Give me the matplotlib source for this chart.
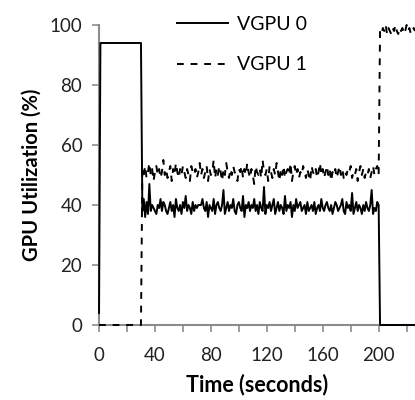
import numpy as np
import matplotlib
matplotlib.use('Agg')
import matplotlib.pyplot as plt

plt.rcParams['font.family'] = ['Lato', 'DejaVu Sans']

# seconds, one sample per second
time = np.arange(0, 227)

# VGPU 0 while both VMs share the GPU (t = 31..199)
gpu0_shared = [
    38, 42, 36, 41, 37, 47, 38, 40, 39, 38,
    37, 40, 39, 42, 38, 41, 40, 38, 37, 39,
    41, 38, 40, 36, 42, 39, 38, 40, 37, 41,
    39, 43, 38, 40, 39, 37, 41, 38, 40, 39,
    40, 40, 40, 42, 39, 38, 41, 36, 40, 39,
    38, 42, 37, 40, 41, 39, 38, 40, 45, 37,
    39, 41, 38, 40, 39, 42, 38, 37, 40, 41,
    39, 38, 43, 36, 40, 39, 41, 38, 40, 39,
    42, 38, 40, 37, 41, 39, 38, 46, 37, 40,
    39, 41, 38, 40, 42, 37, 39, 41, 38, 40,
    39, 37, 43, 38, 40, 39, 41, 36, 40, 38,
    42, 39, 40, 41, 38, 39, 40, 37, 41, 38,
    39, 40, 38, 41, 37, 39, 40, 38, 42, 39,
    38, 40, 41, 39, 38, 40, 37, 39, 41, 40,
    38, 39, 40, 42, 38, 37, 41, 39, 40, 38,
    44, 37, 39, 41, 38, 40, 39, 37, 40, 38,
    41, 39, 38, 40, 45, 37, 39, 38, 41,
]

# VGPU 1 while both VMs share the GPU (t = 31..199)
gpu1_shared = [
    52, 50, 53, 49, 51, 54, 50, 52, 48, 51,
    53, 50, 52, 49, 51, 55, 50, 52, 49, 51,
    53, 48, 52, 50, 54, 51, 49, 52, 50, 53,
    51, 49, 52, 50, 48, 53, 51, 50, 52, 49,
    51, 54, 50, 52, 49, 51, 53, 48, 52, 50,
    51, 55, 49, 52, 50, 53, 51, 48, 52, 50,
    54, 51, 49, 52, 50, 53, 51, 50, 48, 52,
    51, 53, 49, 52, 50, 54, 51, 49, 52, 50,
    47, 53, 51, 50, 52, 49, 55, 51, 50, 52,
    48, 53, 51, 49, 52, 50, 54, 51, 48, 52,
    50, 53, 49, 51, 52, 50, 54, 48, 51, 53,
    50, 52, 49, 51, 50, 53, 51, 49, 52, 50,
    48, 53, 51, 50, 52, 49, 51, 54, 50, 52,
    49, 51, 53, 50, 52, 48, 51, 50, 52, 49,
    51, 53, 50, 52, 49, 51, 50, 52, 51, 53,
    49, 51, 50, 52, 48, 51, 53, 50, 52, 49,
    51, 50, 52, 49, 51, 53, 50, 52, 53,
]

# VGPU 1 alone after VGPU 0 finishes (t = 201..226)
gpu1_alone = [98, 97, 99, 98, 100, 97, 99, 98, 97, 99, 98, 100, 98,
              97, 99, 98, 99, 97, 98, 100, 98, 99, 97, 98, 99, 98]

gpu0 = [4] + [94] * 30 + gpu0_shared + [40] + [0] * 26
gpu1 = [0] * 31 + gpu1_shared + [50] + gpu1_alone

fig = plt.figure(figsize=(4.15, 4.0), dpi=100)
ax = fig.add_axes([0.2386, 0.1875, 0.7614, 0.75])

ax.plot(time, gpu0, color='black', lw=1.4, label='VGPU 0',
        clip_on=False, zorder=4)
ax.plot(time, gpu1, color='black', lw=1.4, ls=(0, (3.5, 3.5)), label='VGPU 1',
        clip_on=False, zorder=4)

ax.set_xlim(0, 226)
ax.set_ylim(0, 100)
ax.set_xticks(np.arange(0, 221, 40))
ax.set_xticks(np.arange(0, 221, 20), minor=True)
ax.set_yticks(np.arange(0, 101, 20))

for side in ['top', 'right']:
    ax.spines[side].set_visible(False)
for side in ['left', 'bottom']:
    ax.spines[side].set_color('#8c8c8c')
    ax.spines[side].set_linewidth(1.5)
ax.tick_params(which='both', color='#8c8c8c', width=1.2, length=5,
               labelsize=13.5, labelcolor='#222222')
ax.tick_params(axis='x', pad=11)
ax.tick_params(axis='y', pad=7)

ax.set_xlabel('Time (seconds)', fontsize=15.5, fontweight='bold', labelpad=7)
ax.set_ylabel('GPU Utilization (%)', fontsize=14.5, fontweight='bold', labelpad=6)

ax.legend(loc='upper left', bbox_to_anchor=(177 / 415, 1 - 16 / 400),
          bbox_transform=fig.transFigure, borderpad=0, borderaxespad=0,
          frameon=False, fontsize=14, handlelength=2.6, handletextpad=0.5,
          labelspacing=1.2)

fig.savefig('out.png', dpi=100)
